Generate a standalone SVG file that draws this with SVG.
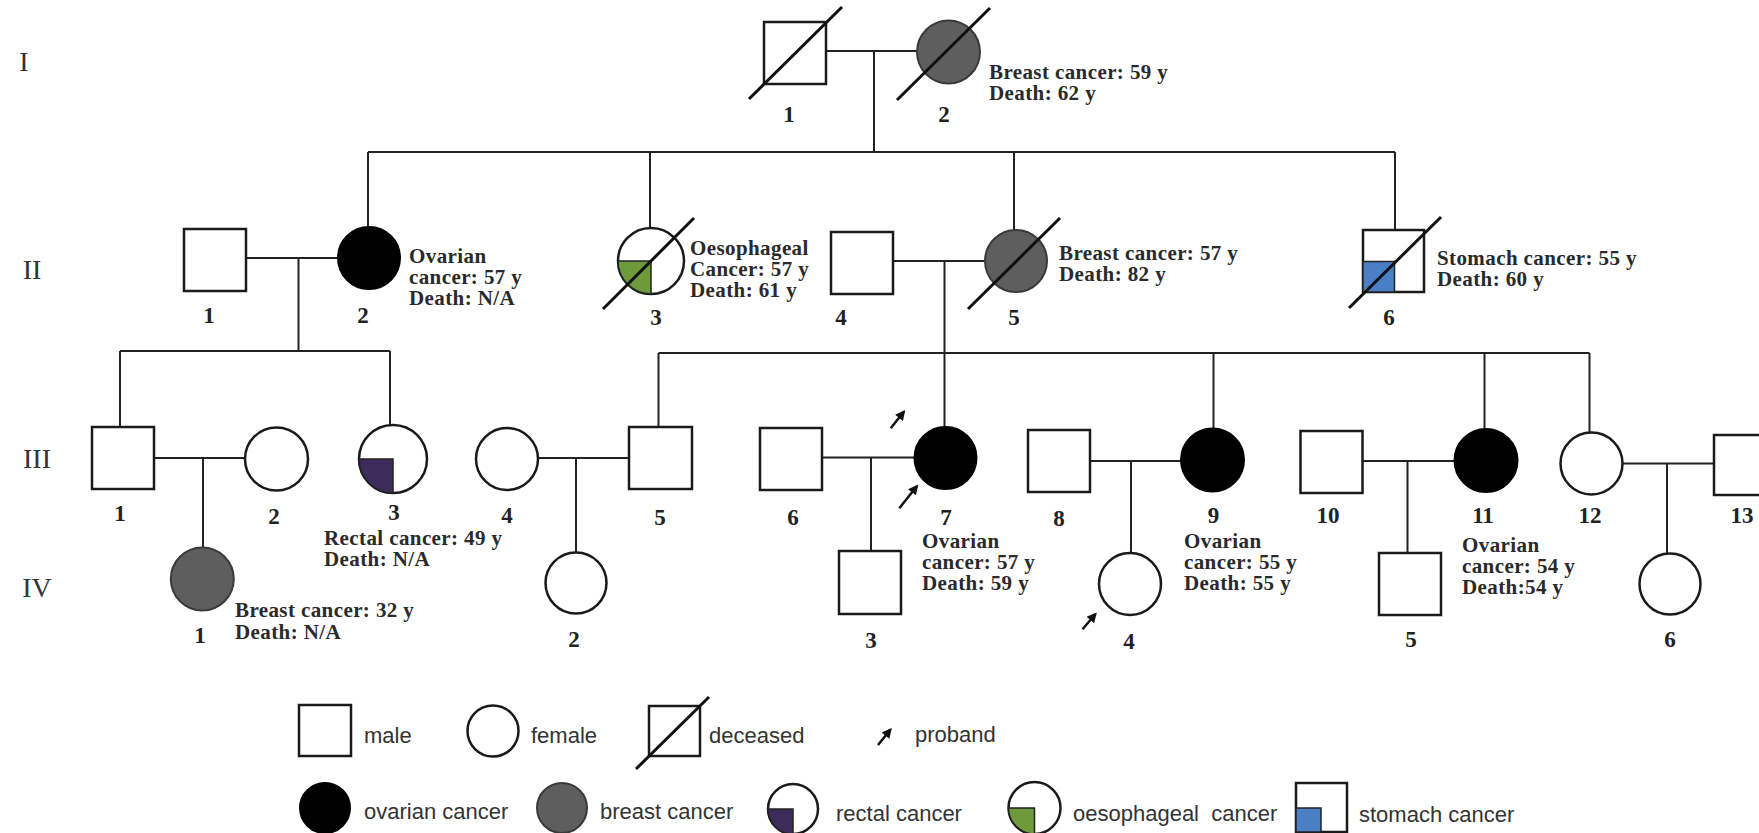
<svg xmlns="http://www.w3.org/2000/svg" width="1759" height="833" viewBox="0 0 1759 833">
<style>
.ln{stroke:#222;stroke-width:2;fill:none}
.sh{stroke:#1a1a1a;stroke-width:2.5;fill:#fff}
.blk{fill:#000;stroke:#000;stroke-width:2}
.gry{fill:#5e5e5e;stroke:#3a3a3a;stroke-width:2}
.dec{stroke:#111;stroke-width:3;fill:none}
.pur{fill:#3d2b5c;stroke:#222;stroke-width:1.5}
.grn{fill:#6f9a3c;stroke:#222;stroke-width:1.5}
.blu{fill:#4a7fc6;stroke:#222;stroke-width:1.5}
.lbl{font-family:"Liberation Serif",serif;font-weight:bold;font-size:23px;fill:#222;text-anchor:middle}
.note{font-family:"Liberation Serif",serif;font-weight:bold;font-size:21px;letter-spacing:0.4px;fill:#2a2a2a}
.gen{font-family:"Liberation Serif",serif;font-size:28px;fill:#333;text-anchor:middle}
.leg{font-family:"Liberation Sans",sans-serif;font-size:22px;fill:#333}
.arr{stroke:#111;stroke-width:2.5;fill:none}
</style>
<defs>
<marker id="ah" viewBox="0 0 10 10" refX="8" refY="5" markerWidth="12" markerHeight="10" orient="auto" markerUnits="userSpaceOnUse">
<path d="M0,0 L10,5 L0,10 z" fill="#111"/>
</marker>
</defs>
<rect width="1759" height="833" fill="#fff"/>

<g id="generations">
<text class="gen" x="24" y="71">I</text>
<text class="gen" x="32" y="279">II</text>
<text class="gen" x="37" y="468">III</text>
<text class="gen" x="37" y="597">IV</text>
</g>

<g id="connectors">
<line class="ln" x1="826" y1="51" x2="917" y2="51"/>
<line class="ln" x1="874" y1="51" x2="874" y2="152"/>
<line class="ln" x1="368" y1="152" x2="1395" y2="152"/>
<line class="ln" x1="368" y1="152" x2="368" y2="227"/>
<line class="ln" x1="650" y1="152" x2="650" y2="228"/>
<line class="ln" x1="1014" y1="152" x2="1014" y2="230"/>
<line class="ln" x1="1395" y1="152" x2="1395" y2="230"/>

<line class="ln" x1="246" y1="258" x2="338" y2="258"/>
<line class="ln" x1="298.5" y1="258" x2="298.5" y2="351"/>
<line class="ln" x1="120" y1="351" x2="390" y2="351"/>
<line class="ln" x1="120" y1="351" x2="120" y2="427"/>
<line class="ln" x1="390" y1="351" x2="390" y2="425"/>

<line class="ln" x1="893" y1="261" x2="985" y2="261"/>
<line class="ln" x1="944.5" y1="261" x2="944.5" y2="353"/>
<line class="ln" x1="658.5" y1="353" x2="1589.5" y2="353"/>
<line class="ln" x1="658.5" y1="353" x2="658.5" y2="427"/>
<line class="ln" x1="944.5" y1="353" x2="944.5" y2="427"/>
<line class="ln" x1="1213.5" y1="353" x2="1213.5" y2="428"/>
<line class="ln" x1="1484.5" y1="353" x2="1484.5" y2="429"/>
<line class="ln" x1="1589.5" y1="353" x2="1589.5" y2="432"/>

<line class="ln" x1="154" y1="458" x2="245" y2="458"/>
<line class="ln" x1="203" y1="458" x2="203" y2="548"/>
<line class="ln" x1="538" y1="458" x2="629" y2="458"/>
<line class="ln" x1="576" y1="458" x2="576" y2="553"/>
<line class="ln" x1="822" y1="457.5" x2="914" y2="457.5"/>
<line class="ln" x1="871" y1="457.5" x2="871" y2="551"/>
<line class="ln" x1="1090" y1="461" x2="1181" y2="461"/>
<line class="ln" x1="1131" y1="461" x2="1131" y2="553"/>
<line class="ln" x1="1363" y1="461" x2="1455" y2="461"/>
<line class="ln" x1="1407.5" y1="461" x2="1407.5" y2="553"/>
<line class="ln" x1="1622.5" y1="463.5" x2="1714" y2="463.5"/>
<line class="ln" x1="1667" y1="463.5" x2="1667" y2="553"/>
</g>

<g id="I-1">
<rect class="sh" x="764" y="22" width="62" height="62"/>
<line class="dec" x1="749" y1="99" x2="842" y2="7"/>
<text class="lbl" x="789" y="122">1</text>
</g>
<g id="I-2">
<circle class="gry" cx="948.5" cy="52" r="31.5"/>
<line class="dec" x1="897" y1="100" x2="990" y2="8"/>
<text class="lbl" x="944" y="122">2</text>
<text class="note" x="989" y="79">Breast cancer: 59 y</text>
<text class="note" x="989" y="100">Death: 62 y</text>
</g>

<g id="II-1">
<rect class="sh" x="184" y="229" width="62" height="62"/>
<text class="lbl" x="209" y="323">1</text>
</g>
<g id="II-2">
<circle class="blk" cx="369" cy="258" r="31"/>
<text class="lbl" x="363" y="323">2</text>
<text class="note" x="409" y="263">Ovarian</text>
<text class="note" x="409" y="284">cancer: 57 y</text>
<text class="note" x="409" y="305">Death: N/A</text>
</g>
<g id="II-3">
<circle class="sh" cx="651" cy="261" r="33"/>
<path class="grn" d="M651,261 L618,261 A33,33 0 0 0 651,294 Z"/>
<line class="dec" x1="603" y1="309" x2="694" y2="218"/>
<text class="lbl" x="656" y="325">3</text>
<text class="note" x="690" y="255">Oesophageal</text>
<text class="note" x="690" y="276">Cancer: 57 y</text>
<text class="note" x="690" y="297">Death: 61 y</text>
</g>
<g id="II-4">
<rect class="sh" x="831" y="232" width="62" height="62"/>
<text class="lbl" x="841" y="325">4</text>
</g>
<g id="II-5">
<circle class="gry" cx="1016" cy="261" r="31"/>
<line class="dec" x1="968" y1="309" x2="1060" y2="218"/>
<text class="lbl" x="1014" y="325">5</text>
<text class="note" x="1059" y="260">Breast cancer: 57 y</text>
<text class="note" x="1059" y="281">Death: 82 y</text>
</g>
<g id="II-6">
<rect class="sh" x="1363" y="230" width="61" height="62"/>
<rect class="blu" x="1363" y="261.5" width="31.5" height="30.5"/>
<line class="dec" x1="1349" y1="308" x2="1441" y2="217"/>
<text class="lbl" x="1389" y="325">6</text>
<text class="note" x="1437" y="265">Stomach cancer: 55 y</text>
<text class="note" x="1437" y="286">Death: 60 y</text>
</g>

<g id="III-1">
<rect class="sh" x="92" y="427" width="62" height="62"/>
<text class="lbl" x="120" y="521">1</text>
</g>
<g id="III-2">
<circle class="sh" cx="276.5" cy="459" r="31.5"/>
<text class="lbl" x="274" y="524">2</text>
</g>
<g id="III-3">
<circle class="sh" cx="393" cy="459" r="34"/>
<path class="pur" d="M393,459 L359,459 A34,34 0 0 0 393,493 Z"/>
<text class="lbl" x="394" y="520">3</text>
<text class="note" x="324" y="545">Rectal cancer: 49 y</text>
<text class="note" x="324" y="566">Death: N/A</text>
</g>
<g id="III-4">
<circle class="sh" cx="507" cy="459" r="31"/>
<text class="lbl" x="507" y="523">4</text>
</g>
<g id="III-5">
<rect class="sh" x="629" y="427" width="63" height="62"/>
<text class="lbl" x="660" y="525">5</text>
</g>
<g id="III-6">
<rect class="sh" x="760" y="428" width="62" height="62"/>
<text class="lbl" x="793" y="525">6</text>
</g>
<g id="III-7">
<circle class="blk" cx="945.5" cy="458" r="31"/>
<line class="arr" x1="890.7" y1="428.3" x2="904" y2="411.5" marker-end="url(#ah)"/>
<line class="arr" x1="899.3" y1="508.3" x2="917" y2="486" marker-end="url(#ah)"/>
<text class="lbl" x="946" y="525">7</text>
<text class="note" x="922" y="548">Ovarian</text>
<text class="note" x="922" y="569">cancer: 57 y</text>
<text class="note" x="922" y="590">Death: 59 y</text>
</g>
<g id="III-8">
<rect class="sh" x="1028" y="430" width="62" height="62"/>
<text class="lbl" x="1059" y="526">8</text>
</g>
<g id="III-9">
<circle class="blk" cx="1212.5" cy="460" r="31.5"/>
<text class="lbl" x="1213.5" y="523">9</text>
<text class="note" x="1184" y="548">Ovarian</text>
<text class="note" x="1184" y="569">cancer: 55 y</text>
<text class="note" x="1184" y="590">Death: 55 y</text>
</g>
<g id="III-10">
<rect class="sh" x="1300.5" y="431" width="62" height="62"/>
<text class="lbl" x="1328" y="523">10</text>
</g>
<g id="III-11">
<circle class="blk" cx="1486" cy="460.5" r="31.5"/>
<text class="lbl" x="1483" y="523">11</text>
<text class="note" x="1462" y="552">Ovarian</text>
<text class="note" x="1462" y="573">cancer: 54 y</text>
<text class="note" x="1462" y="594">Death:54 y</text>
</g>
<g id="III-12">
<circle class="sh" cx="1591.5" cy="463.5" r="31"/>
<text class="lbl" x="1590" y="523">12</text>
</g>
<g id="III-13">
<rect class="sh" x="1714" y="435" width="62" height="60"/>
<text class="lbl" x="1742" y="523">13</text>
</g>

<g id="IV-1">
<circle class="gry" cx="202.3" cy="579" r="31.5"/>
<text class="lbl" x="200" y="643">1</text>
<text class="note" x="235" y="617">Breast cancer: 32 y</text>
<text class="note" x="235" y="639">Death: N/A</text>
</g>
<g id="IV-2">
<circle class="sh" cx="576" cy="583" r="30.5"/>
<text class="lbl" x="574" y="647">2</text>
</g>
<g id="IV-3">
<rect class="sh" x="839" y="551" width="62" height="63"/>
<text class="lbl" x="871" y="648">3</text>
</g>
<g id="IV-4">
<circle class="sh" cx="1130" cy="584" r="31"/>
<line class="arr" x1="1082.5" y1="629.3" x2="1095.5" y2="614" marker-end="url(#ah)"/>
<text class="lbl" x="1129" y="649">4</text>
</g>
<g id="IV-5">
<rect class="sh" x="1379" y="553" width="62" height="62"/>
<text class="lbl" x="1411" y="647">5</text>
</g>
<g id="IV-6">
<circle class="sh" cx="1670" cy="584" r="30.5"/>
<text class="lbl" x="1670" y="647">6</text>
</g>

<g id="legend">
<rect class="sh" x="299" y="705" width="52" height="51" stroke-width="2"/>
<text class="leg" x="364" y="743">male</text>
<circle class="sh" cx="493" cy="731" r="25.5" stroke-width="2"/>
<text class="leg" x="531" y="743">female</text>
<rect class="sh" x="649" y="706" width="51" height="50" stroke-width="2"/>
<line class="dec" x1="636" y1="769" x2="709" y2="697" stroke-width="2.5"/>
<text class="leg" x="709" y="743">deceased</text>
<line class="arr" x1="878" y1="745" x2="890.5" y2="729.5" stroke-width="2" marker-end="url(#ah)"/>
<text class="leg" x="915" y="742">proband</text>
<circle class="blk" cx="325" cy="808" r="25"/>
<text class="leg" x="364" y="819">ovarian cancer</text>
<circle class="gry" cx="562" cy="808" r="25"/>
<text class="leg" x="600" y="819">breast cancer</text>
<circle class="sh" cx="793" cy="809" r="25" stroke-width="2"/>
<path class="pur" d="M793,809 L768,809 A25,25 0 0 0 793,834 Z"/>
<text class="leg" x="836" y="821">rectal cancer</text>
<circle class="sh" cx="1034.5" cy="808" r="26" stroke-width="2"/>
<path class="grn" d="M1034.5,808 L1008.5,808 A26,26 0 0 0 1034.5,834 Z"/>
<text class="leg" x="1073" y="821" style="white-space:pre">oesophageal  cancer</text>
<rect class="sh" x="1296" y="783" width="51" height="49" stroke-width="2"/>
<rect class="blu" x="1296" y="808" width="25" height="24"/>
<text class="leg" x="1359" y="822">stomach cancer</text>
</g>
</svg>
